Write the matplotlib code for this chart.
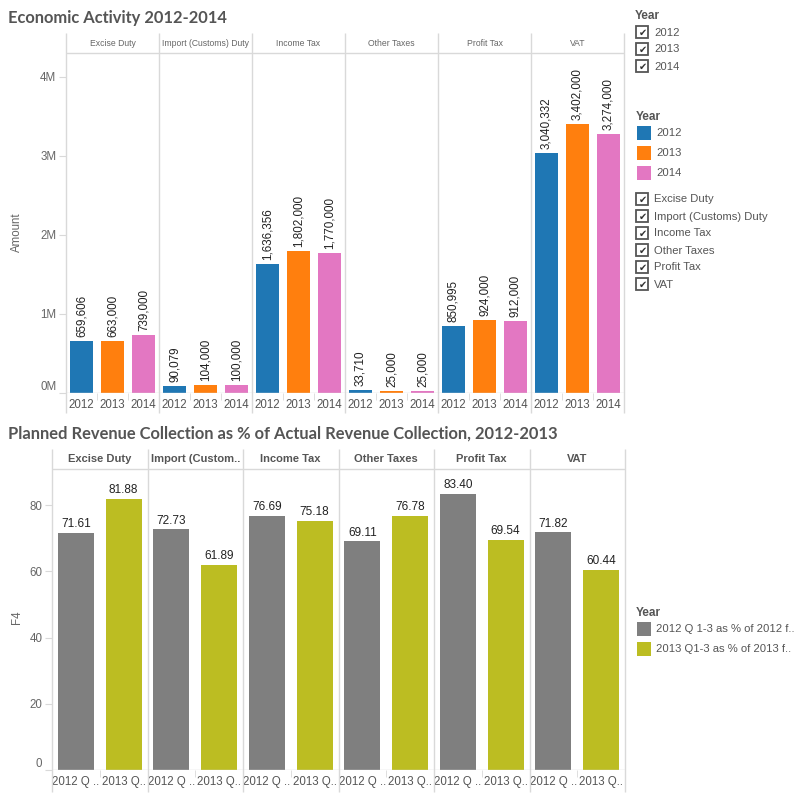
import matplotlib
matplotlib.use("Agg")
import matplotlib.pyplot as plt
from matplotlib.lines import Line2D
from matplotlib.patches import Rectangle
import numpy as np

# ---------------- data ----------------
categories = ["Excise Duty", "Import (Customs) Duty", "Income Tax", "Other Taxes", "Profit Tax", "VAT"]
categories_short = ["Excise Duty", "Import (Custom..", "Income Tax", "Other Taxes", "Profit Tax", "VAT"]
years = ["2012", "2013", "2014"]
amount_2012 = [659606, 90079, 1636356, 33710, 850995, 3040332]
amount_2013 = [663000, 104000, 1802000, 25000, 924000, 3402000]
amount_2014 = [739000, 100000, 1770000, 25000, 912000, 3274000]
year_colors = ["#1f77b4", "#ff7f0e", "#e377c2"]

pct_series = ["2012 Q 1-3 as % of 2012 f..", "2013 Q1-3 as % of 2013 f.."]
pct_ticklabels = ["2012 Q ..", "2013 Q.."]
pct_2012 = [71.61, 72.73, 76.69, 69.11, 83.40, 71.82]
pct_2013 = [81.88, 61.89, 75.18, 76.78, 69.54, 60.44]
pct_colors = ["#7f7f7f", "#bcbd22"]

amount_ticks = [0, 1e6, 2e6, 3e6, 4e6]
amount_ticklabels = ["0M", "1M", "2M", "3M", "4M"]
pct_ticks = [0, 20, 40, 60, 80]

# ---------------- layout helpers ----------------
W = 799
fig = plt.figure(figsize=(7.99, 7.99), dpi=100)
fig.patch.set_facecolor("white")

def fx(x):
    return x / W

def fy(y):
    return 1 - y / W

GRID = "#d9d9d9"
TXT = "#555555"
TXT2 = "#666666"
SANS = ["Liberation Sans", "DejaVu Sans"]
TITLEF = ["Lato", "DejaVu Sans"]

def fline(x0, y0, x1, y1, color=GRID, lw=1.0):
    fig.add_artist(Line2D([fx(x0), fx(x1)], [fy(y0), fy(y1)], transform=fig.transFigure,
                          color=color, lw=lw, solid_capstyle="butt"))

def ftext(x, y, s, **kw):
    fig.text(fx(x), fy(y), s, **kw)

def checkbox(x, y, label):
    fig.add_artist(Rectangle((fx(x), fy(y + 12)), 12 / W, 12 / W, transform=fig.transFigure,
                             fill=False, edgecolor="#555555", lw=1.3))
    ftext(x + 6.5, y + 6.5, "\u2714", ha="center", va="center", fontsize=7, color="#333333",
          family=["DejaVu Sans"])
    ftext(x + 18, y + 6.5, label, ha="left", va="center", fontsize=8.1, color=TXT, family=SANS)

# ---------------- top chart ----------------
ftext(8, 18, "Economic Activity 2012-2014", ha="left", va="center", fontsize=11.9,
      fontweight="bold", color=TXT, family=TITLEF)

tx0, tx1, ty0, ty1 = 66, 624, 53, 393
ax1 = fig.add_axes([fx(tx0), fy(ty1), (tx1 - tx0) / W, (ty1 - ty0) / W])
n = len(categories)
series = [amount_2012, amount_2013, amount_2014]
for ci in range(n):
    for yi in range(3):
        xpos = ci * 3 + yi + 0.5
        v = series[yi][ci]
        ax1.bar(xpos, v, width=0.74, color=year_colors[yi], zorder=2)
        ax1.text(xpos, v + 0.05e6, f"{v:,}", rotation=90, ha="center", va="bottom",
                 fontsize=8.4, color="#222222", family=SANS)
ax1.set_xlim(0, 18)
ax1.set_ylim(0, 4.30e6)
for s in ax1.spines.values():
    s.set_visible(False)
ax1.set_yticks(amount_ticks)
ax1.set_yticklabels(amount_ticklabels, family=SANS, fontsize=8.3, color=TXT2)
ax1.get_yticklabels()[0].set_va("bottom")
ax1.tick_params(axis="y", length=5, color=GRID, pad=2)
ax1.set_xticks([i + 0.5 for i in range(18)])
ax1.set_xticklabels(years * n, family=SANS, fontsize=8.3, color=TXT)
ax1.set_xticks([i for i in range(19) if i % 3 != 0], minor=True)
ax1.tick_params(axis="x", which="major", length=0, pad=4)
ax1.tick_params(axis="x", which="minor", length=5, color=GRID)
ax1.axhline(0, color=GRID, lw=1.0, zorder=3)

tpanel = np.linspace(tx0, tx1, n + 1)
for xb in tpanel:
    fline(xb, 33, xb, 413)
fline(tx0, 53, tx1, 53)
for ci in range(n):
    ftext((tpanel[ci] + tpanel[ci + 1]) / 2, 43, categories[ci], ha="center", va="center",
          fontsize=6.2, color=TXT2, family=SANS)
ftext(17, 232, "Amount", rotation=90, ha="center", va="center", fontsize=8.3,
      color=TXT2, family=SANS)

# ---------------- bottom chart ----------------
ftext(8, 434, "Planned Revenue Collection as % of Actual Revenue Collection, 2012-2013",
      ha="left", va="center", fontsize=11.9, fontweight="bold", color=TXT, family=TITLEF)

bx0, bx1, by0, by1 = 52, 625, 469, 770
ax2 = fig.add_axes([fx(bx0), fy(by1), (bx1 - bx0) / W, (by1 - by0) / W])
pseries = [pct_2012, pct_2013]
for ci in range(n):
    for si in range(2):
        xpos = ci * 2 + si + 0.5
        v = pseries[si][ci]
        ax2.bar(xpos, v, width=0.75, color=pct_colors[si], zorder=2)
        ax2.text(xpos, v + 0.8, f"{v:.2f}", ha="center", va="bottom", fontsize=8.5,
                 color="#222222", family=SANS)
ax2.set_xlim(0, 12)
ax2.set_ylim(0, 90.9)
for s in ax2.spines.values():
    s.set_visible(False)
ax2.set_yticks(pct_ticks)
ax2.set_yticklabels([str(t) for t in pct_ticks], family=SANS, fontsize=8.3, color=TXT2)
ax2.get_yticklabels()[0].set_va("bottom")
ax2.tick_params(axis="y", length=5, color=GRID, pad=2)
ax2.set_xticks([i + 0.5 for i in range(12)])
ax2.set_xticklabels(pct_ticklabels * n, family=SANS, fontsize=8.3, color=TXT)
ax2.set_xticks([i for i in range(13) if i % 2 != 0], minor=True)
ax2.tick_params(axis="x", which="major", length=0, pad=4)
ax2.tick_params(axis="x", which="minor", length=5, color=GRID)
ax2.axhline(0, color=GRID, lw=1.0, zorder=3)

bpanel = np.linspace(bx0, bx1, n + 1)
for xb in bpanel:
    fline(xb, 449, xb, 792)
fline(bx0, 469, bx1, 469)
for ci in range(n):
    ftext((bpanel[ci] + bpanel[ci + 1]) / 2, 459, categories_short[ci], ha="center", va="center",
          fontsize=8.0, fontweight="bold", color=TXT, family=SANS)
ftext(17, 617, "F4", rotation=90, ha="center", va="center", fontsize=8.3,
      color=TXT2, family=SANS)

# ---------------- legends ----------------
ftext(635, 16, "Year", ha="left", va="center", fontsize=8.5, fontweight="bold", color=TXT, family=SANS)
for i, yv in enumerate(years):
    checkbox(636, 26 + i * 17, yv)

ftext(636, 117, "Year", ha="left", va="center", fontsize=8.5, fontweight="bold", color=TXT, family=SANS)
for i, yv in enumerate(years):
    y0 = 126 + i * 20
    fig.add_artist(Rectangle((fx(637), fy(y0 + 14)), 14 / W, 14 / W, transform=fig.transFigure,
                             facecolor=year_colors[i], edgecolor="none"))
    ftext(656, y0 + 7, yv, ha="left", va="center", fontsize=8.1, color=TXT, family=SANS)

for i, c in enumerate(categories):
    checkbox(636, 193 + i * 17, c)

ftext(636, 613, "Year", ha="left", va="center", fontsize=8.5, fontweight="bold", color=TXT, family=SANS)
for i, s in enumerate(pct_series):
    y0 = 622 + i * 20
    fig.add_artist(Rectangle((fx(637), fy(y0 + 14)), 14 / W, 14 / W, transform=fig.transFigure,
                             facecolor=pct_colors[i], edgecolor="none"))
    ftext(656, y0 + 7, s, ha="left", va="center", fontsize=8.1, color=TXT, family=SANS)

fig.savefig("out.png", dpi=100, facecolor="white")
